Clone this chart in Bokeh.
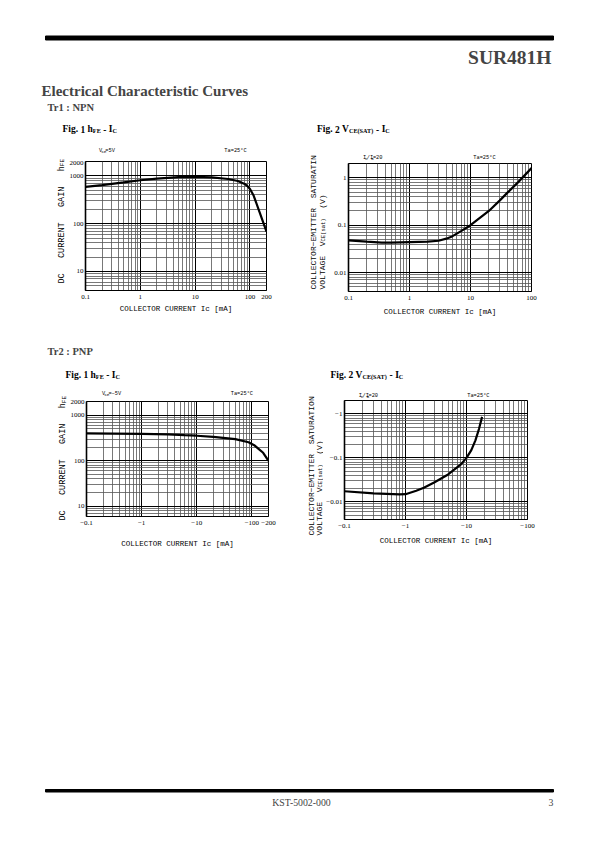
import re
import numpy as np
from bokeh.plotting import figure
from bokeh.models import Range1d, FixedTicker, Label
from bokeh.layouts import column, row
from bokeh.embed import file_html
from bokeh.resources import INLINE

# ---------------- data ----------------
# Tr1 : NPN  Fig.1  hFE - Ic  (VCE=5V)
npn_hfe_ic = [0.1, 0.2, 0.5, 1, 2, 5, 10, 20, 40, 60, 80, 90, 100, 117, 150, 200]
npn_hfe = [590, 640, 730, 810, 880, 945, 950, 930, 860, 780, 680, 610, 530, 383, 172, 68]
npn_hfe_xticks = [0.1, 1, 10, 100, 200]
npn_hfe_xlabels = ["0.1", "1", "10", "100", "200"]
npn_hfe_yticks = [10, 100, 1000, 2000]
npn_hfe_ylabels = ["10", "100", "1000", "2000"]

# Tr1 : NPN  Fig.2  VCE(sat) - Ic  (Ic/Ib=20)
npn_vce_ic = [0.1, 0.2, 0.35, 0.5, 1, 2, 3, 4, 5, 7, 10, 20, 30, 40, 60, 100]
npn_vce = [0.048, 0.045, 0.043, 0.043, 0.044, 0.045, 0.047, 0.052, 0.058, 0.075,
           0.1, 0.2, 0.33, 0.48, 0.8, 1.6]
npn_vce_xticks = [0.1, 1, 10, 100]
npn_vce_xlabels = ["0.1", "1", "10", "100"]
npn_vce_yticks = [0.01, 0.1, 1]
npn_vce_ylabels = ["0.01", "0.1", "1"]

# Tr2 : PNP  Fig.1  hFE - Ic  (VCE=-5V)
pnp_hfe_ic = [-0.1, -0.3, -1, -3, -6, -10, -20, -50, -87, -110, -132, -160, -200]
pnp_hfe = [400, 395, 390, 380, 365, 355, 335, 300, 255, 220, 183, 150, 100]
pnp_hfe_xticks = [0.1, 1, 10, 100, 200]
pnp_hfe_xlabels = ["\u22120.1", "\u22121", "\u221210", "\u2212100", "\u2212200"]
pnp_hfe_yticks = [10, 100, 1000, 2000]
pnp_hfe_ylabels = ["10", "100", "1000", "2000"]

# Tr2 : PNP  Fig.2  VCE(sat) - Ic  (Ic/Ib=20)
pnp_vce_ic = [-0.1, -0.3, -0.8, -1, -1.5, -2, -3, -5, -8, -10, -12, -14, -16, -18]
pnp_vce = [-0.0175, -0.0157, -0.0149, -0.015, -0.018, -0.021, -0.028, -0.042,
           -0.07, -0.1, -0.15, -0.25, -0.45, -0.85]
pnp_vce_xticks = [0.1, 1, 10, 100]
pnp_vce_xlabels = ["\u22120.1", "\u22121", "\u221210", "\u2212100"]
pnp_vce_yticks = [0.01, 0.1, 1]
pnp_vce_ylabels = ["\u22120.01", "\u22120.1", "\u22121"]

# ---------------- text helpers ----------------
MONO = "Liberation Mono"
SERIF = "Liberation Serif"
TB = {"F": 611, "i": 278, "g": 500, ".": 250, " ": 250, "1": 500, "2": 500, "h": 556,
      "E": 667, "-": 333, "I": 389, "C": 722, "V": 722, "(": 333, "S": 556, "A": 722,
      "T": 667, ")": 333}


def text_width(text, size, font):
    if font == MONO:
        return len(text) * 0.6 * size
    return sum(TB.get(c, 500) for c in text) * size / 1000.0


def put_runs(fig, parts, px, py, font, angle=0.0, anchor="left", bold=False):
    """Place text runs (text, size, baseline shift) in page coordinates; words are
    placed one by one so that runs of spaces keep their width."""
    total = sum(text_width(t, s, font) for t, s, _ in parts)
    pos = {"left": 0.0, "center": -total / 2.0, "right": -total}[angle == 0 and anchor or "left"]
    for t, s, shift in parts:
        off = 0.0
        for piece in re.split(r"( +)", t):
            if piece and not piece.startswith(" "):
                d = pos + off
                if angle == 0:
                    qx, qy = px + d, py + shift
                else:
                    qx, qy = px + shift, py - d
                fig.add_layout(Label(x=qx, y=qy, text=piece, text_font=font,
                                     text_font_size=f"{s}px",
                                     text_font_style="bold" if bold else "normal",
                                     text_baseline="alphabetic", text_align="left",
                                     angle=angle, text_color="black"))
            off += text_width(piece, s, font)
        pos += text_width(t, s, font)


def page_fig(left, top, w, h):
    p = figure(width=w, height=h, x_range=Range1d(left, left + w), y_range=Range1d(top + h, top),
               x_axis_type=None, y_axis_type=None, min_border=0, toolbar_location=None,
               output_backend="svg", title=None, outline_line_color=None)
    p.background_fill_color = "white"
    p.border_fill_color = "white"
    return p


def log_grid(lo, hi):
    e0, e1 = int(np.floor(np.log10(lo))), int(np.ceil(np.log10(hi)))
    major = [10.0 ** e for e in range(e0, e1 + 1) if lo <= 10.0 ** e <= hi * 1.0001]
    minor = [k * 10.0 ** e for e in range(e0, e1 + 1) for k in range(2, 10)
             if lo <= k * 10.0 ** e <= hi * 1.0001]
    return major, minor


def chart(box, fleft, ftop, fw, fh, xr, yr, xt, xl, yt, yl, xs, ys, xlab_standoff):
    L, T, R, B = box
    p = figure(x_axis_type="log", y_axis_type="log", x_range=Range1d(*xr), y_range=Range1d(*yr),
               frame_width=R - L, frame_height=B - T,
               min_border_left=L - fleft, min_border_right=fleft + fw - R,
               min_border_top=T - ftop, min_border_bottom=ftop + fh - B,
               toolbar_location=None, output_backend="svg", title=None)
    p.background_fill_color = "white"
    p.border_fill_color = "white"
    p.outline_line_color = "black"
    p.outline_line_width = 1
    for ax, ticks, labels in ((p.xaxis, xt, xl), (p.yaxis, yt, yl)):
        ax.ticker = FixedTicker(ticks=ticks)
        ax.major_label_overrides = dict(zip(ticks, labels))
        ax.major_tick_line_color = None
        ax.minor_tick_line_color = None
        ax.major_tick_out = 0
        ax.major_tick_in = 0
        ax.minor_tick_out = 0
        ax.minor_tick_in = 0
        ax.axis_line_color = "black"
        ax.major_label_text_font = SERIF
        ax.major_label_text_font_size = "7px"
        ax.major_label_text_color = "black"
    p.xaxis.major_label_standoff = 4
    p.yaxis.major_label_standoff = 2
    p.yaxis.axis_line_width = 1.6
    p.xaxis.axis_label = "COLLECTOR CURRENT Ic [mA]"
    p.xaxis.axis_label_text_font = MONO
    p.xaxis.axis_label_text_font_size = "7.5px"
    p.xaxis.axis_label_text_font_style = "normal"
    p.xaxis.axis_label_text_color = "black"
    p.xaxis.axis_label_standoff = xlab_standoff
    for g, rng in ((p.xgrid, xr), (p.ygrid, yr)):
        mj, mn = log_grid(*rng)
        g.ticker = FixedTicker(ticks=mj, minor_ticks=mn)
        g.grid_line_color = "black"
        g.grid_line_width = 1
        g.minor_grid_line_color = "#555555"
        g.minor_grid_line_width = 0.8
    p.line(x=np.abs(np.array(xs, dtype=float)), y=np.abs(np.array(ys, dtype=float)),
           line_width=2.2, line_color="black")
    return p


SUBI = [("I", 5.3, 0), ("C", 4, 1), ("/I", 5.3, 0), ("B", 4, 1), ("=20", 5.3, 0)]
TA = [("Ta=25\u00b0C", 5.3, 0)]
HFE_LAB = [("DC   CURRENT   GAIN   h", 8.5, 0), ("FE", 6, 1)]
VCE_LAB2 = [("VOLTAGE  V", 8, 0), ("CE(sat)", 5.5, 1), ("  (V)", 8, 0)]
FIG1 = [("Fig. 1 h", 9.5, 0), ("FE", 6.2, 1.8), (" - I", 9.5, 0), ("C", 6.2, 1.8)]
FIG2 = [("Fig. 2 V", 9.5, 0), ("CE(SAT)", 6.2, 1.8), (" - I", 9.5, 0), ("C", 6.2, 1.8)]

# ---------------- header ----------------
head = page_fig(0, 0, 590, 140)
head.quad(left=[45], right=[553], top=[35.5], bottom=[39.5], color="black")
head.add_layout(Label(x=551, y=57, text="SUR481H", text_font=SERIF, text_font_size="19.5px",
                      text_font_style="bold", text_align="right", text_baseline="alphabetic"))
head.add_layout(Label(x=41, y=90, text="Electrical Characteristic Curves", text_font=SERIF,
                      text_font_size="15px", text_font_style="bold", text_baseline="alphabetic"))
head.add_layout(Label(x=47, y=107, text="Tr1 : NPN", text_font=SERIF, text_font_size="10.5px",
                      text_font_style="bold", text_baseline="alphabetic"))
put_runs(head, FIG1, 62, 128.5, SERIF, bold=True)
put_runs(head, FIG2, 316.5, 128.5, SERIF, bold=True)

# ---------------- row 1 (NPN) ----------------
lab1 = page_fig(0, 140, 66, 178)
put_runs(lab1, HFE_LAB, 61, 283, MONO, angle=np.pi / 2)
top1 = page_fig(66, 140, 224, 20)
put_runs(top1, [("V", 5.3, 0), ("CE", 4, 1), ("=5V", 5.3, 0)], 83, 150.5, MONO)
put_runs(top1, TA, 263, 150.5, MONO, anchor="right")
c1 = chart((82, 161, 263, 290), 66, 160, 224, 158, (0.1, 200), (4, 2000),
           npn_hfe_xticks, npn_hfe_xlabels, npn_hfe_yticks, npn_hfe_ylabels,
           npn_hfe_ic, npn_hfe, 3)

lab2 = page_fig(290, 140, 35, 178)
put_runs(lab2, [("COLLECTOR\u2212EMITTER  SATURATIN", 8, 0)], 309.5, 289, MONO, angle=np.pi / 2)
put_runs(lab2, VCE_LAB2, 318.5, 289, MONO, angle=np.pi / 2)
top2 = page_fig(325, 140, 265, 20)
put_runs(top2, SUBI, 346, 157, MONO)
put_runs(top2, TA, 528, 157, MONO, anchor="right")
c2 = chart((345, 163, 528, 291), 325, 160, 265, 158, (0.1, 100), (0.004, 2),
           npn_vce_xticks, npn_vce_xlabels, npn_vce_yticks, npn_vce_ylabels,
           npn_vce_ic, npn_vce, 5)

# ---------------- middle ----------------
mid = page_fig(0, 318, 590, 62)
mid.add_layout(Label(x=47, y=351, text="Tr2 : PNP", text_font=SERIF, text_font_size="10.5px",
                     text_font_style="bold", text_baseline="alphabetic"))
put_runs(mid, FIG1, 65, 374, SERIF, bold=True)
put_runs(mid, FIG2, 330, 374, SERIF, bold=True)

# ---------------- row 2 (PNP) ----------------
lab3 = page_fig(0, 380, 67, 180)
put_runs(lab3, HFE_LAB, 62.5, 520, MONO, angle=np.pi / 2)
top3 = page_fig(67, 380, 223, 19)
put_runs(top3, [("V", 5.3, 0), ("CE", 4, 1), ("=\u22125V", 5.3, 0)], 86, 393, MONO)
put_runs(top3, TA, 267, 393, MONO, anchor="right")
c3 = chart((85, 401, 267, 516), 67, 399, 223, 161, (0.1, 200), (6, 2000),
           pnp_hfe_xticks, pnp_hfe_xlabels, pnp_hfe_yticks, pnp_hfe_ylabels,
           pnp_hfe_ic, pnp_hfe, 12)

lab4 = page_fig(290, 380, 32, 180)
put_runs(lab4, [("COLLECTOR\u2212EMITTER  SATURATION", 8, 0)], 309.5, 535, MONO, angle=np.pi / 2)
put_runs(lab4, VCE_LAB2, 318, 535, MONO, angle=np.pi / 2)
top4 = page_fig(322, 380, 268, 19)
put_runs(top4, SUBI, 343, 395, MONO)
put_runs(top4, TA, 525, 395, MONO, anchor="right")
c4 = chart((342, 400, 525, 519), 322, 399, 268, 161, (0.1, 100), (0.004, 2),
           pnp_vce_xticks, pnp_vce_xlabels, pnp_vce_yticks, pnp_vce_ylabels,
           pnp_vce_ic, pnp_vce, 6)

# ---------------- footer ----------------
foot = page_fig(0, 560, 590, 270)
foot.quad(left=[45], right=[553], top=[789], bottom=[791.5], color="black")
foot.add_layout(Label(x=301, y=801.5, text="KST-5002-000", text_font=SERIF, text_font_size="9.8px",
                      text_align="center", text_baseline="alphabetic"))
foot.add_layout(Label(x=553, y=801.5, text="3", text_font=SERIF, text_font_size="9.8px",
                      text_align="right", text_baseline="alphabetic"))

layout = column(
    head,
    row(lab1, column(top1, c1), lab2, column(top2, c2)),
    mid,
    row(lab3, column(top3, c3), lab4, column(top4, c4)),
    foot,
)
open("out.html", "w").write(file_html(layout, INLINE))
